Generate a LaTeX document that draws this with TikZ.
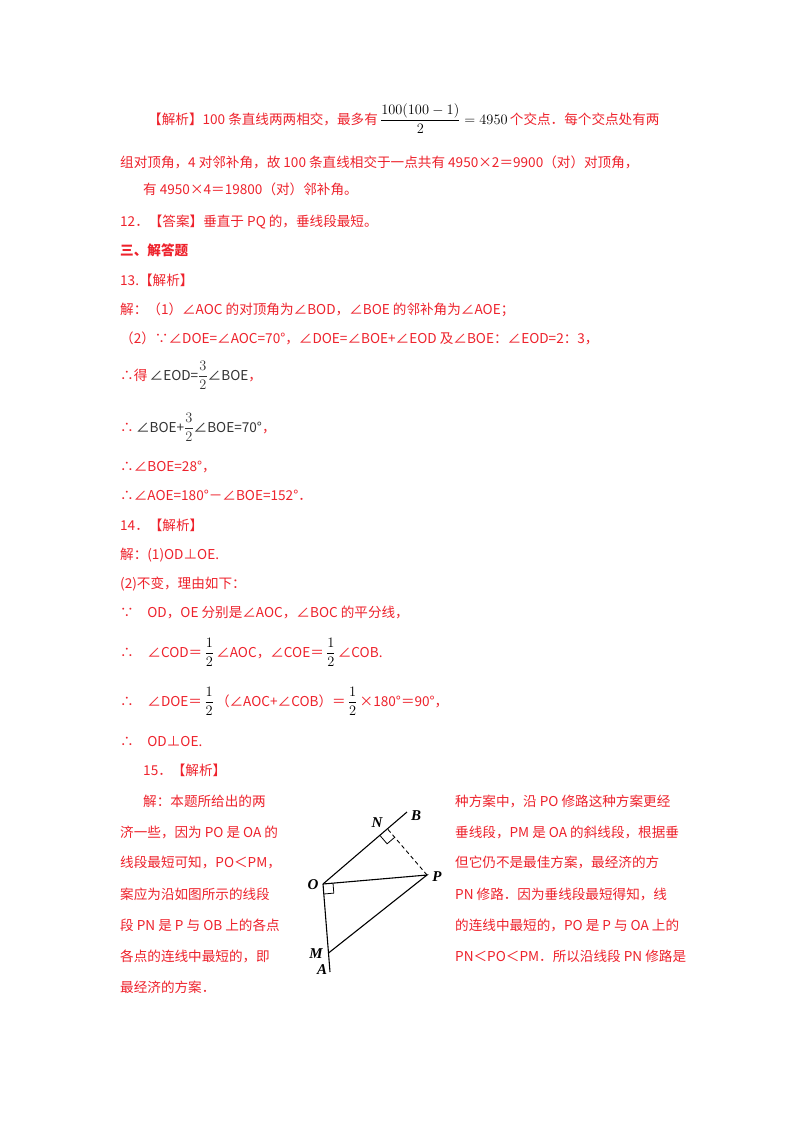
\documentclass[tikz,border=0pt]{standalone}
\usepackage{amsmath}
\usepackage{fontspec}
\usetikzlibrary{calc}
\setmainfont{Noto Sans CJK SC}
\newfontfamily\labf{Liberation Serif}
\definecolor{rd}{RGB}{238,34,44}
\begin{document}
\begin{tikzpicture}[x=1pt,y=-1pt,
  tx/.style={anchor=base west,inner sep=0,text=rd,font=\fontsize{13.6}{14}\selectfont},
  lb/.style={inner sep=0,font=\labf\itshape\bfseries\fontsize{15}{15}\selectfont},
  geo/.style={line width=1.1pt,black}]
\useasboundingbox[fill=white] (0,0) rectangle (800,1132);
\node[tx] (l1) at (148,124) {【解析】100 条直线两两相交，最多有\,{\color{black}\fontsize{15}{15}\selectfont$\dfrac{100(100-1)}{2}=4950$}\,个交点．每个交点处有两};
\node[tx] (l2) at (120,167) {组对顶角，4 对邻补角，故 100 条直线相交于一点共有 4950×2＝9900（对）对顶角，};
\node[tx] (l3) at (143,194) {有 4950×4＝19800（对）邻补角。};
\node[tx] (l4) at (120,226) {12．【答案】垂直于 PQ 的，垂线段最短。};
\node[tx,font=\fontsize{13.6}{14}\selectfont\bfseries] (l5) at (120,255) {三、解答题};
\node[tx] (l6) at (120,285) {13.【解析】};
\node[tx] (l7) at (120,314) {解：（1）∠AOC 的对顶角为∠BOD，∠BOE 的邻补角为∠AOE；};
\node[tx] (l8) at (120,343) {（2）∵∠DOE=∠AOC=70°，∠DOE=∠BOE+∠EOD 及∠BOE：∠EOD=2：3，};
\node[tx] (l9) at (120,380) {∴得\,{\color{black!80}∠EOD=$\dfrac{3}{2}$∠BOE}，};
\node[tx] (l10) at (120,432) {∴\,{\color{black!80}∠BOE+$\dfrac{3}{2}$∠BOE=70°}，};
\node[tx] (l11) at (120,471) {∴∠BOE=28°，};
\node[tx] (l12) at (120,500) {∴∠AOE=180°－∠BOE=152°．};
\node[tx] (l13) at (120,530) {14．【解析】};
\node[tx] (l14) at (120,559) {解：(1)OD⊥OE.};
\node[tx] (l15) at (120,588) {(2)不变，理由如下：};
\node[tx] (l16) at (120,617) {∵\quad OD，OE 分别是∠AOC，∠BOC 的平分线，};
\node[tx] (l17) at (120,657) {∴\quad ∠COD＝\,{\color{black}$\dfrac{1}{2}$}\,∠AOC，∠COE＝\,{\color{black}$\dfrac{1}{2}$}\,∠COB.};
\node[tx] (l18) at (120,706) {∴\quad ∠DOE＝\,{\color{black}$\dfrac{1}{2}$}\,（∠AOC+∠COB）＝\,{\color{black}$\dfrac{1}{2}$}\,×180°＝90°，};
\node[tx] (l19) at (120,746) {∴\quad OD⊥OE.};
\node[tx] (l20) at (143,775) {15．【解析】};
\node[tx] (a1) at (143,806) {解：本题所给出的两};
\node[tx] (a2) at (120,837) {济一些，因为 PO 是 OA 的};
\node[tx] (a3) at (120,867) {线段最短可知，PO＜PM，};
\node[tx] (a4) at (120,899) {案应为沿如图所示的线段};
\node[tx] (a5) at (120,930) {段 PN 是 P 与 OB 上的各点};
\node[tx] (a6) at (120,961) {各点的连线中最短的，即};
\node[tx] (a7) at (120,992) {最经济的方案．};
\node[tx] (b1) at (455,806) {种方案中，沿 PO 修路这种方案更经};
\node[tx] (b2) at (455,837) {垂线段，PM 是 OA 的斜线段，根据垂};
\node[tx] (b3) at (455,867) {但它仍不是最佳方案，最经济的方};
\node[tx] (b4) at (455,899) {PN 修路．因为垂线段最短得知，线};
\node[tx] (b5) at (455,930) {的连线中最短的，PO 是 P 与 OA 上的};
\node[tx] (b6) at (455,961) {PN＜PO＜PM．所以沿线段 PN 修路是};
% figure
\coordinate (O) at (323,884);
\coordinate (B) at (407,812);
\coordinate (P) at (427,875);
\coordinate (N) at (387.4,828.8);
\coordinate (A) at (330,972);
\coordinate (M) at (328.5,953);
\draw[geo] (O) -- (B);
\draw[geo] (O) -- (A);
\draw[geo] (O) -- (P) -- (M);
\draw[line width=0.9pt,dash pattern=on 4pt off 3pt] (P) -- (N);
\draw[line width=0.8pt] ($(N)+(-7.6,6.5)$) -- ++(7.3,8.5) -- ++(7.6,-6.5);
\draw[line width=0.8pt] ($(O)+(0.8,10)$) -- ++(10,-0.9) -- ++(-0.8,-10);
\node[lb] (Ol) at (313,885) {O};
\node[lb] (Pl) at (437,877) {P};
\node[lb] (Nl) at (377,823) {N};
\node[lb] (Bl) at (416,816) {B};
\node[lb] (Ml) at (316,954) {M};
\node[lb] (Al) at (322,970) {A};
\end{tikzpicture}
\end{document}
